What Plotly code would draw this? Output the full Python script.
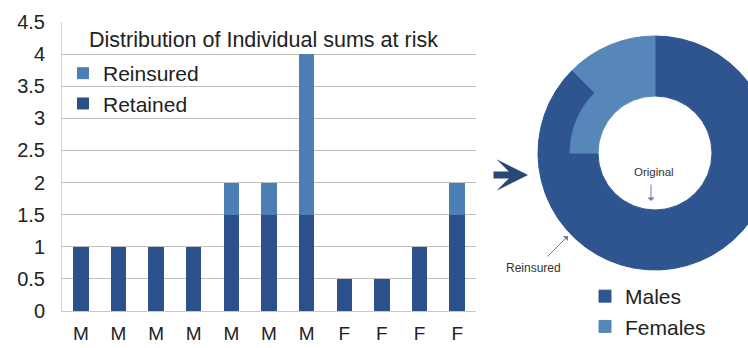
import plotly.graph_objects as go

# ---- data ----
categories = ["M", "M", "M", "M", "M", "M", "M", "F", "F", "F", "F"]
retained = [1, 1, 1, 1, 1.5, 1.5, 1.5, 0.5, 0.5, 1, 1.5]
reinsured = [0, 0, 0, 0, 0.5, 0.5, 2.5, 0, 0, 0, 0.5]
y_ticks = [0, 0.5, 1, 1.5, 2, 2.5, 3, 3.5, 4, 4.5]
pie_labels = ["Males", "Females"]
original_split = [12, 4]
reinsured_split = [3.5, 0.5]

W, H = 772, 348
DARK = "#2C5089"
LIGHT = "#4C80B5"
PIE_DARK = "#2E5590"
PIE_LIGHT = "#5687B8"


def px(x):
    return x / W


def py(y):
    return 1 - y / H


xs = list(range(len(categories)))
fig = go.Figure()
fig.add_trace(go.Bar(x=xs, y=retained, name="Retained", marker_color=DARK,
                     marker_line_width=0, width=0.41, legendrank=2))
fig.add_trace(go.Bar(x=xs, y=reinsured, name="Reinsured", marker_color=LIGHT,
                     marker_line_width=0, width=0.41, legendrank=1))

# donut: outer ring = reinsured, inner ring = original
cx, cy, r_out, r_mid, r_in = 655, 153, 117, 85, 57
pie_line = dict(color=[PIE_DARK, PIE_LIGHT], width=1)
fig.add_trace(go.Pie(labels=pie_labels, values=reinsured_split, sort=False,
                     direction="clockwise", rotation=0, hole=(r_mid - 3) / r_out,
                     marker=dict(colors=[PIE_DARK, PIE_LIGHT], line=pie_line),
                     textinfo="none",
                     domain=dict(x=[px(cx - r_out), px(cx + r_out)],
                                 y=[py(cy + r_out), py(cy - r_out)]),
                     legend="legend2", hoverinfo="label+value"))
fig.add_trace(go.Pie(labels=pie_labels, values=original_split, sort=False,
                     direction="clockwise", rotation=0, hole=r_in / r_mid,
                     marker=dict(colors=[PIE_DARK, PIE_LIGHT], line=pie_line),
                     textinfo="none",
                     domain=dict(x=[px(cx - r_mid), px(cx + r_mid)],
                                 y=[py(cy + r_mid), py(cy - r_mid)]),
                     legend="legend2", hoverinfo="label+value"))

FONT = "Liberation Sans, Arial, sans-serif"
fig.update_layout(
    width=W, height=H, margin=dict(l=0, r=0, t=0, b=0, autoexpand=False),
    paper_bgcolor="white", plot_bgcolor="white",
    barmode="stack", bargap=0,
    font=dict(family=FONT, color="#222"),
    xaxis=dict(domain=[px(62), px(476)], range=[-0.5, 10.5], automargin=False,
               tickvals=xs, ticktext=categories, tickfont=dict(size=19, color="#222"),
               showgrid=False, showline=True, linecolor="#C8C8C8", zeroline=False,
               ticks="", ticklabelstandoff=5),
    yaxis=dict(domain=[py(311), py(22)], range=[0, 4.5], tickvals=y_ticks, automargin=False,
               ticktext=["0", "0.5", "1", "1.5", "2", "2.5", "3", "3.5", "4", "4.5"],
               tickfont=dict(size=20, color="#222"), gridcolor="#BDBDBD", gridwidth=1,
               showline=True, linecolor="#D8D8D8", zeroline=False, ticks="",
               ticklabelstandoff=12),
    legend=dict(x=px(63), y=py(53), xanchor="left", yanchor="top",
                font=dict(size=21, color="#222"), bgcolor="rgba(0,0,0,0)",
                itemwidth=30, tracegroupgap=0, traceorder="normal"),
    legend2=dict(x=px(585), y=py(276), xanchor="left", yanchor="top",
                 font=dict(size=21, color="#222"), bgcolor="rgba(0,0,0,0)",
                 itemwidth=30),
    annotations=[
        dict(text="Distribution of Individual sums at risk", x=px(87), y=py(40),
             xref="paper", yref="paper", xanchor="left", yanchor="middle",
             showarrow=False, font=dict(size=21.5, color="#222")),
        dict(text="", x=px(528), y=py(175), xref="paper", yref="paper",
             ax=-36, ay=0, showarrow=True, arrowhead=3, arrowsize=0.75,
             arrowwidth=7, arrowcolor="#2A4876"),
        dict(text="Original", x=px(654), y=py(172), xref="paper", yref="paper",
             xanchor="center", yanchor="middle",
             showarrow=False, font=dict(size=11.5, color="#333")),
        dict(text="", x=px(651), y=py(201), xref="paper", yref="paper",
             ax=0, ay=-18, showarrow=True, arrowhead=1, arrowsize=1.2,
             arrowwidth=1, arrowcolor="#6A7AAE"),
        dict(text="Reinsured", x=px(533), y=py(268), xref="paper", yref="paper",
             xanchor="center", yanchor="middle",
             showarrow=False, font=dict(size=12, color="#333")),
        dict(text="", x=px(568), y=py(236), xref="paper", yref="paper",
             ax=-22, ay=22, showarrow=True, arrowhead=1, arrowsize=1.2,
             arrowwidth=1, arrowcolor="#6A7AAE"),
    ],
)

fig.write_html("out.html", config={"displayModeBar": False},
               post_script="document.body.style.margin='0';"
                           "document.body.style.overflow='hidden';"
                           "document.documentElement.style.overflow='hidden';")
